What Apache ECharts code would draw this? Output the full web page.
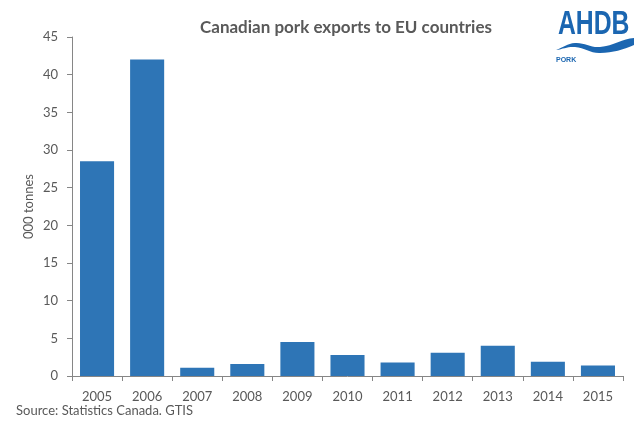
<!DOCTYPE html>
<html><head><meta charset="utf-8">
<script src="https://cdn.jsdelivr.net/npm/echarts@6/dist/echarts.min.js"></script>
<style>html,body{margin:0;padding:0;background:#fff}#c{width:634px;height:421px}</style>
</head><body><div id="c"></div>
<script>
const categories = ['2005','2006','2007','2008','2009','2010','2011','2012','2013','2014','2015'];
const exportsValues = [28.5, 42, 1.1, 1.6, 4.5, 2.8, 1.8, 3.1, 4.0, 1.9, 1.4];
const chartTitle = 'Canadian pork exports to EU countries';
const yAxisName = '000 tonnes';
const sourceText = 'Source: Statistics Canada. GTIS';

const font = 'Lato, "Open Sans", sans-serif';
const chart = echarts.init(document.getElementById('c'), null, {renderer:'canvas'});
chart.setOption({
  animation:false,
  title:{text:chartTitle,left:341,top:14,textAlign:'center',
    textStyle:{fontFamily:font,fontSize:17,fontWeight:'bold',color:'#595959'}},
  grid:{left:72,right:11,top:37,bottom:45},
  xAxis:{type:'category',data:categories,
    axisLine:{lineStyle:{color:'#868686'}},
    axisTick:{show:true,length:5,lineStyle:{color:'#868686'}},
    axisLabel:{fontFamily:font,fontSize:13,color:'#595959',margin:14}},
  yAxis:{type:'value',min:0,max:45,interval:5,
    name:yAxisName,nameLocation:'middle',nameGap:37,nameMoveOverlap:false,
    nameTextStyle:{fontFamily:font,fontSize:13,color:'#595959'},
    splitLine:{show:false},
    axisLine:{show:true,lineStyle:{color:'#868686'}},
    axisTick:{show:true,length:5,lineStyle:{color:'#868686'}},
    axisLabel:{fontFamily:font,fontSize:13,color:'#595959',margin:14}},
  series:[{type:'bar',data:exportsValues,barCategoryGap:'32%',
    itemStyle:{color:'#2E75B6'}}],
  graphic:[
    {type:'text',x:16,y:404,style:{text:sourceText,font:'13px '+font,fill:'#595959'}},
    {type:'text',x:558,y:8,scaleX:0.75,style:{text:'AHDB',font:'bold 33px "Liberation Sans", sans-serif',fill:'#1B66B1'}},
    {type:'polygon',shape:{points:[[556,50],[575,43],[600,47],[634,38],[634,45],[600,53],[575,47],[556,50]],smooth:0.4},style:{fill:'#1B66B1'}},
    {type:'text',x:556,y:57,style:{text:'PORK',font:'bold 7px "Liberation Sans", sans-serif',fill:'#1B66B1'}}
  ]
});
</script></body></html>
